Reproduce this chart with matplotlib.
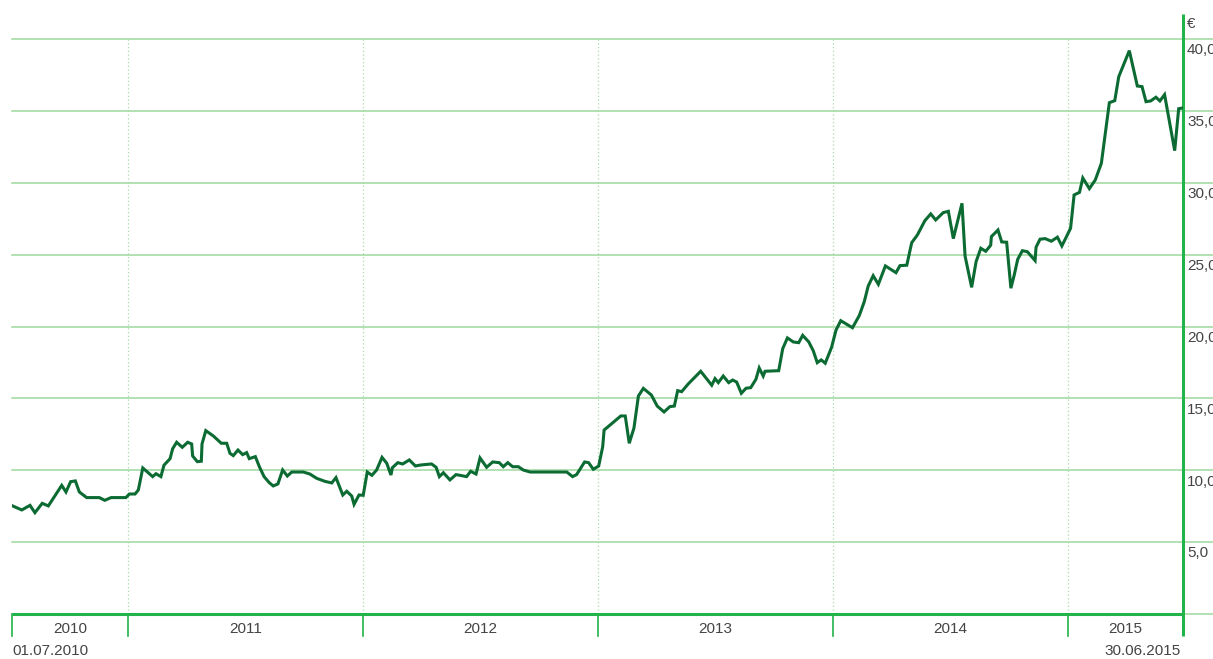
"""
Kursverlauf 01.07.2010 - 30.06.2015 (Liniendiagramm, Euro)
"""

import matplotlib
matplotlib.use("Agg")
import matplotlib.pyplot as plt

plt.rcParams["font.family"] = ["Liberation Sans Narrow", "Liberation Sans", "DejaVu Sans"]

# Zeitpunkte als Dezimaljahr, Kurs in Euro
DATES = [
    2010.509, 2010.548, 2010.583, 2010.604, 2010.635, 2010.661, 2010.718, 2010.736,
    2010.756, 2010.776, 2010.793, 2010.824, 2010.878, 2010.901, 2010.928, 2010.991,
    2011.006, 2011.030, 2011.044, 2011.063, 2011.105, 2011.119, 2011.140, 2011.153,
    2011.179, 2011.190, 2011.207, 2011.231, 2011.254, 2011.271, 2011.275, 2011.295,
    2011.312, 2011.315, 2011.331, 2011.363, 2011.397, 2011.420, 2011.434, 2011.448,
    2011.468, 2011.488, 2011.505, 2011.516, 2011.542, 2011.559, 2011.579, 2011.601,
    2011.618, 2011.638, 2011.658, 2011.678, 2011.697, 2011.746, 2011.774, 2011.803,
    2011.838, 2011.867, 2011.885, 2011.914, 2011.931, 2011.952, 2011.962, 2011.983,
    2012.001, 2012.018, 2012.038, 2012.058, 2012.081, 2012.101, 2012.119, 2012.125,
    2012.148, 2012.169, 2012.197, 2012.223, 2012.246, 2012.292, 2012.311, 2012.325,
    2012.342, 2012.370, 2012.396, 2012.441, 2012.458, 2012.481, 2012.498, 2012.526,
    2012.552, 2012.580, 2012.597, 2012.616, 2012.637, 2012.661, 2012.682, 2012.711,
    2012.867, 2012.892, 2012.909, 2012.943, 2012.960, 2012.980, 2013.003, 2013.020,
    2013.026, 2013.097, 2013.116, 2013.133, 2013.153, 2013.172, 2013.193, 2013.227,
    2013.252, 2013.281, 2013.306, 2013.325, 2013.339, 2013.356, 2013.384, 2013.437,
    2013.484, 2013.498, 2013.512, 2013.533, 2013.556, 2013.573, 2013.590, 2013.610,
    2013.630, 2013.650, 2013.672, 2013.686, 2013.703, 2013.711, 2013.769, 2013.786,
    2013.806, 2013.831, 2013.854, 2013.871, 2013.897, 2013.916, 2013.933, 2013.950,
    2013.967, 2013.994, 2014.013, 2014.033, 2014.083, 2014.112, 2014.133, 2014.150,
    2014.171, 2014.193, 2014.223, 2014.268, 2014.285, 2014.314, 2014.335, 2014.359,
    2014.391, 2014.416, 2014.437, 2014.469, 2014.491, 2014.512, 2014.549, 2014.562,
    2014.590, 2014.609, 2014.629, 2014.650, 2014.671, 2014.674, 2014.702, 2014.718,
    2014.739, 2014.757, 2014.771, 2014.786, 2014.806, 2014.827, 2014.860, 2014.864,
    2014.881, 2014.903, 2014.929, 2014.955, 2014.974, 2015.011, 2015.026, 2015.049,
    2015.063, 2015.091, 2015.116, 2015.142, 2015.176, 2015.199, 2015.216, 2015.261,
    2015.295, 2015.315, 2015.332, 2015.352, 2015.374, 2015.391, 2015.411, 2015.454,
    2015.471, 2015.488,
]
PRICES = [
    7.52, 7.24, 7.56, 7.05, 7.70, 7.52, 8.95, 8.49,
    9.21, 9.26, 8.49, 8.10, 8.10, 7.91, 8.10, 8.10,
    8.35, 8.35, 8.63, 10.16, 9.56, 9.76, 9.56, 10.35,
    10.81, 11.50, 11.95, 11.60, 11.95, 11.83, 11.00, 10.60,
    10.63, 11.83, 12.76, 12.39, 11.88, 11.88, 11.18, 11.02,
    11.41, 11.09, 11.23, 10.81, 10.95, 10.25, 9.56, 9.14,
    8.91, 9.05, 10.02, 9.60, 9.88, 9.88, 9.74, 9.44,
    9.23, 9.12, 9.49, 8.28, 8.54, 8.21, 7.63, 8.28,
    8.26, 9.88, 9.65, 10.02, 10.90, 10.49, 9.67, 10.18,
    10.53, 10.44, 10.72, 10.30, 10.37, 10.44, 10.21, 9.56,
    9.83, 9.33, 9.70, 9.56, 9.93, 9.74, 10.86, 10.21,
    10.58, 10.53, 10.25, 10.53, 10.25, 10.25, 10.02, 9.88,
    9.88, 9.56, 9.70, 10.58, 10.53, 10.07, 10.30, 11.64,
    12.80, 13.78, 13.78, 11.88, 12.94, 15.17, 15.70, 15.24,
    14.47, 14.06, 14.43, 14.47, 15.54, 15.47, 16.01, 16.89,
    15.92, 16.38, 16.10, 16.56, 16.10, 16.28, 16.14, 15.36,
    15.71, 15.75, 16.33, 17.12, 16.56, 16.89, 16.93, 18.46,
    19.21, 18.93, 18.88, 19.39, 18.93, 18.32, 17.49, 17.68,
    17.45, 18.56, 19.76, 20.41, 19.92, 20.77, 21.73, 22.83,
    23.54, 22.94, 24.22, 23.75, 24.24, 24.27, 25.84, 26.37,
    27.37, 27.84, 27.42, 27.93, 28.02, 26.12, 28.58, 24.91,
    22.73, 24.52, 25.45, 25.24, 25.66, 26.26, 26.72, 25.89,
    25.87, 22.67, 23.57, 24.68, 25.28, 25.21, 24.59, 25.52,
    26.08, 26.12, 25.94, 26.22, 25.61, 26.84, 29.16, 29.34,
    30.34, 29.60, 30.20, 31.36, 35.58, 35.72, 37.39, 39.20,
    36.74, 36.70, 35.65, 35.70, 35.96, 35.70, 36.14, 32.24,
    35.16, 35.21,
]

Y_TICKS = [5, 10, 15, 20, 25, 30, 35, 40]
Y_LABELS = ["5,0", "10,0", "15,0", "20,0", "25,0", "30,0", "35,0", "40,0"]
YEARS = ["2010", "2011", "2012", "2013", "2014", "2015"]
YEAR_BOUNDS = [2011, 2012, 2013, 2014, 2015]
START_LABEL = "01.07.2010"
END_LABEL = "30.06.2015"

X_LO, X_HI = 2010.5064, 2015.4894
Y_LO, Y_HI = 0.0, 41.75

LINE_COLOR = "#0b6b32"
AXIS_COLOR = "#22b34a"
GRID_COLOR = "#a6dca6"
TEXT_COLOR = "#444444"
FS = 11


def main() -> None:
    W, H = 1213, 659
    fig = plt.figure(figsize=(W / 100, H / 100), dpi=100)
    fig.patch.set_facecolor("white")
    ax = fig.add_axes([12 / W, 45 / H, (1183 - 12) / W, 600 / H])
    ax.set_xlim(X_LO, X_HI)
    ax.set_ylim(Y_LO, Y_HI)
    ax.axis("off")

    ytr = ax.get_yaxis_transform()   # x: Achse, y: Daten
    ext = (W - 12) / (1183 - 12)     # Gitterlinien bis zum rechten Bildrand

    # horizontale Gitterlinien + Beschriftung rechts
    for v in [0] + Y_TICKS:
        ax.plot([0, ext], [v, v], transform=ytr, color=GRID_COLOR, lw=1.2,
                clip_on=False, zorder=1)
    for v, lbl in zip(Y_TICKS, Y_LABELS):
        ax.text(1.0035, v - 0.3, lbl, transform=ytr, ha="left", va="top",
                fontsize=FS, color=TEXT_COLOR)
    ax.text(1.0035, Y_HI - 0.2, "€", transform=ytr, ha="left", va="top",
            fontsize=FS, color=TEXT_COLOR)

    # vertikale Jahreslinien (gepunktet)
    for xb in YEAR_BOUNDS:
        ax.plot([xb, xb], [Y_LO, 40], color=GRID_COLOR, lw=0.9,
                linestyle=(0, (1, 2)), zorder=1)

    # Kurslinie
    ax.plot(DATES, PRICES, color=LINE_COLOR, lw=2.2, zorder=4,
            solid_joinstyle="miter")

    # Achsen
    tick_lo = -22 / 14.37
    ax.plot([X_LO, X_HI], [0, 0], color=AXIS_COLOR, lw=2.2,
            clip_on=False, zorder=3, solid_capstyle="butt")
    ax.plot([X_HI, X_HI], [tick_lo, Y_HI], color=AXIS_COLOR, lw=2.2,
            clip_on=False, zorder=3, solid_capstyle="butt")
    for xb in [X_LO] + YEAR_BOUNDS:
        ax.plot([xb, xb], [tick_lo, 0], color=AXIS_COLOR, lw=1.2,
                clip_on=False, zorder=3)

    # Jahresbeschriftung mittig in den Segmenten
    edges = [X_LO] + YEAR_BOUNDS + [X_HI]
    for i, yr in enumerate(YEARS):
        xm = (edges[i] + edges[i + 1]) / 2
        ax.text(xm, -15 / 14.37, yr, ha="center", va="center",
                fontsize=FS, color=TEXT_COLOR, clip_on=False)

    ax.text(X_LO, -37 / 14.37, START_LABEL, ha="left", va="center",
            fontsize=FS, color=TEXT_COLOR, clip_on=False)
    ax.text(X_HI - 0.01, -37 / 14.37, END_LABEL, ha="right", va="center",
            fontsize=FS, color=TEXT_COLOR, clip_on=False)

    fig.savefig("out.png", dpi=100, facecolor="white")
    plt.close(fig)


if __name__ == "__main__":
    main()
